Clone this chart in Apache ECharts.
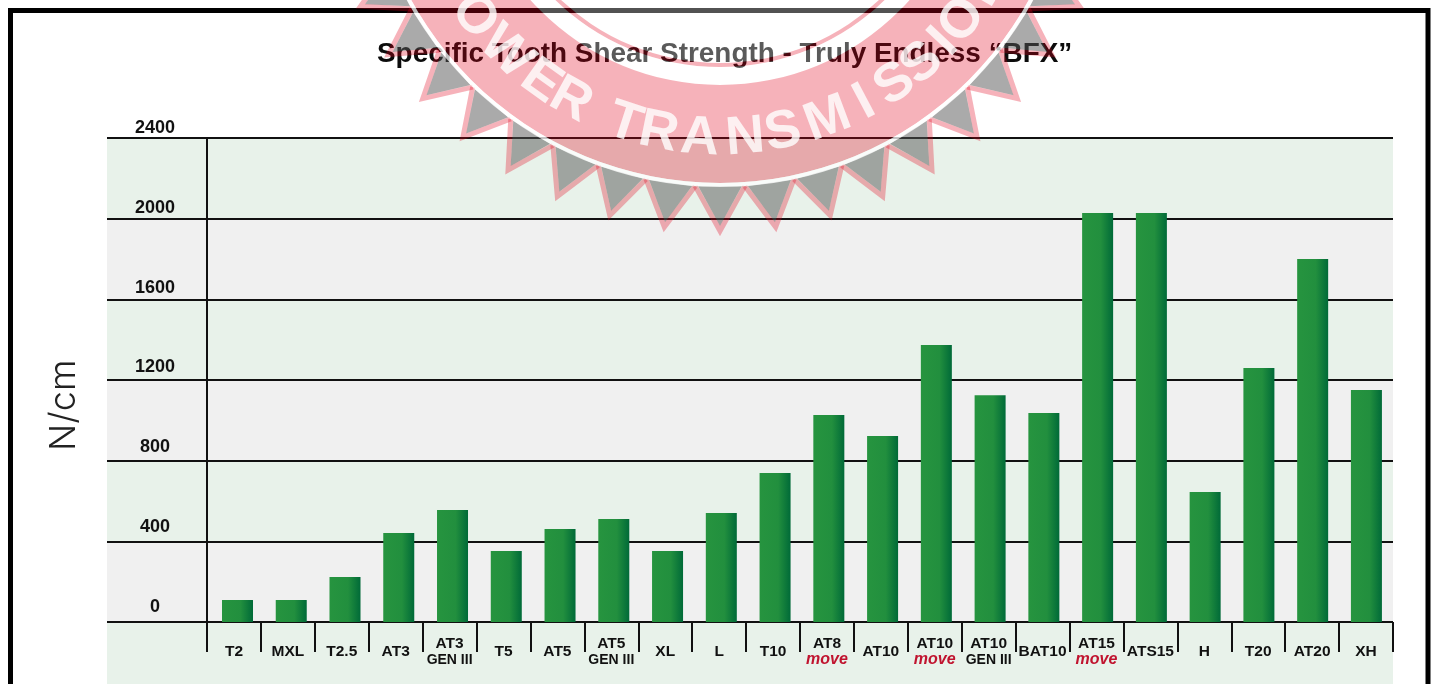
<!DOCTYPE html>
<html>
<head>
<meta charset="UTF-8">
<title>Specific Tooth Shear Strength</title>
<script src="https://cdn.jsdelivr.net/npm/echarts@6/dist/echarts.min.js"></script>
<style>
html,body{margin:0;padding:0;background:#fff;overflow:hidden;}
#main{width:1437px;height:684px;}
</style>
</head>
<body>
<div id="main"></div>
<script type="text/javascript">
var chartTitle = 'Specific Tooth Shear Strength - Truly Endless \u201CBFX\u201D';
var categories = ['T2','MXL','T2.5','AT3','AT3','T5','AT5','AT5','XL','L','T10','AT8','AT10','AT10','AT10','BAT10','AT15','ATS15','H','T20','AT20','XH'];
var subLabels  = ['','','','','GEN III','','','GEN III','','','','move','','move','GEN III','','move','','','','',''];
var strength   = [109,109,223,441,555,352,461,511,352,540,739,1026,922,1373,1125,1036,2028,2028,645,1259,1800,1150];

// stamp letters and their angle round the ring, degrees from straight down
var stampLetters = ['P','O','W','E','R','T','R','A','N','S','M','I','S','S','I','O','N'];
var stampAngles  = [-62,-53,-44,-35.5,-29,-18,-11.5,-3.8,4.7,11.8,20.5,28,34.6,41,46.7,52,60];

var stampX = 720, stampY = -169;
var pink = 'rgba(225,0,25,0.3)';
var veil = 'rgba(255,255,255,0.32)';

function ring(r0, r, fill){
    return {type:'ring', z:100, silent:true, shape:{cx:stampX, cy:stampY, r0:r0, r:r}, style:{fill:fill}};
}
function polar(deg, r){
    var a = deg * Math.PI / 180;
    return [stampX + r * Math.sin(a), stampY + r * Math.cos(a)];
}

var stamp = [
    {type:'circle', z:100, silent:true, shape:{cx:stampX, cy:stampY, r:232}, style:{fill:veil}},
    ring(232,236,pink),
    ring(236,254,veil),
    ring(254,352,pink),
    ring(352,356,'rgba(255,255,255,0.75)')
];
// teeth of the seal: grey body, pink edge along the two slanted sides
for (var t = -88; t <= 88; t += 8) {
    stamp.push({
        type:'polygon', z:99, silent:true,
        shape:{points:[polar(t-3.5,356), polar(t,395), polar(t+3.5,356)]},
        style:{fill:'rgba(85,85,85,0.5)'}
    });
    stamp.push({
        type:'polyline', z:99, silent:true,
        shape:{points:[polar(t-4,356), polar(t,400), polar(t+4,356)]},
        style:{fill:'none', stroke:pink, lineWidth:5, lineJoin:'miter', miterLimit:8}
    });
}
stampLetters.forEach(function(ch, i){
    var p = polar(stampAngles[i], 308);
    stamp.push({
        type:'text', z:101, silent:true, x:p[0], y:p[1],
        rotation: stampAngles[i] * Math.PI / 180,
        style:{text:ch, fill:'rgba(255,255,255,0.8)', font:'bold 54px "Liberation Sans"', align:'center', verticalAlign:'middle'}
    });
});

var myChart = echarts.init(document.getElementById('main'));

var option = {
    animation:false,
    backgroundColor:'#fff',
    textStyle:{fontFamily:'"Liberation Sans", Arial, sans-serif'},
    title:{
        text:chartTitle, left:372, top:35, z:1,
        textStyle:{fontFamily:'"Liberation Sans"', fontSize:27.9, fontWeight:'bold', color:'#0c0c0c'}
    },
    grid:[
        // bands and lines, runs past the page bottom
        {left:107, top:138, width:1286, height:564.67, outerBoundsMode:'none'},
        // ticks and category labels
        {left:207, top:138, width:1186, height:484, outerBoundsMode:'none'},
        // bars sit slightly tighter than the ticks in the original
        {left:210.6, top:138, width:1182.7, height:484, outerBoundsMode:'none'},
        // value labels run a little tighter than the lines
        {left:107, top:128, width:100, height:479, outerBoundsMode:'none'}
    ],
    xAxis:[
        {gridIndex:0, type:'value', show:false},
        {
            gridIndex:1, type:'category', data:categories,
            axisLine:{show:false},
            axisTick:{show:true, length:30, lineStyle:{color:'#111', width:2}},
            axisLabel:{
                interval:0, margin:30, verticalAlign:'middle',
                formatter:function(v, i){
                    if (!subLabels[i]) return '{a|' + v + '}';
                    return '{a|' + v + '}\n' + (subLabels[i] === 'move' ? '{m|move}' : '{g|' + subLabels[i] + '}');
                },
                rich:{
                    a:{fontFamily:'"Liberation Sans"', fontSize:15.5, fontWeight:'bold', color:'#111', lineHeight:16},
                    g:{fontFamily:'"Liberation Sans"', fontSize:14, fontWeight:'bold', color:'#111', lineHeight:16},
                    m:{fontFamily:'"Liberation Sans"', fontSize:16, fontWeight:'bold', fontStyle:'italic', color:'#c0142f', lineHeight:16}
                }
            }
        },
        {gridIndex:2, type:'category', data:categories, show:false},
        {gridIndex:3, type:'value', show:false}
    ],
    yAxis:[
        {
            gridIndex:0, type:'value', min:-400, max:2400, interval:400,
            name:'N/cm', nameLocation:'middle', nameRotate:90, nameGap:25,
            nameTextStyle:{fontFamily:'Inter', fontSize:36, fontWeight:300, color:'#222', padding:[0,0,0,30]},
            axisLine:{show:false}, axisTick:{show:false},
            axisLabel:{show:false},
            splitLine:{show:true, lineStyle:{color:'#111', width:2}},
            splitArea:{show:true, areaStyle:{color:['#e8f2ea','#f0f0f0']}}
        },
        {
            gridIndex:1, type:'value', min:0, max:2400, interval:400,
            axisLine:{show:true, lineStyle:{color:'#111', width:2}},
            axisTick:{show:false}, axisLabel:{show:false}, splitLine:{show:false}
        },
        {
            gridIndex:2, type:'value', min:0, max:2400, interval:400, show:false
        },
        {
            gridIndex:3, type:'value', min:0, max:2400, interval:400,
            axisLine:{show:false}, axisTick:{show:false}, splitLine:{show:false},
            axisLabel:{
                inside:true, align:'center', margin:48, verticalAlign:'middle',
                fontFamily:'"Liberation Sans"', fontSize:18, fontWeight:'bold', color:'#111',
                formatter:function(v){ return String(v); }
            }
        }
    ],
    series:[{
        name:'BFX', type:'bar', xAxisIndex:2, yAxisIndex:2, data:strength, barWidth:31,
        itemStyle:{color:new echarts.graphic.LinearGradient(0,0,1,0,[
            {offset:0, color:'#26943f'},
            {offset:0.6, color:'#228f3e'},
            {offset:1, color:'#006a38'}
        ])}
    }],
    graphic:{elements:[
        {type:'rect', z:2, silent:true, shape:{x:10.5, y:10.5, width:1417.5, height:720}, style:{fill:'none', stroke:'#000', lineWidth:5}}
    ].concat(stamp)}
};

myChart.setOption(option);
</script>
</body>
</html>
